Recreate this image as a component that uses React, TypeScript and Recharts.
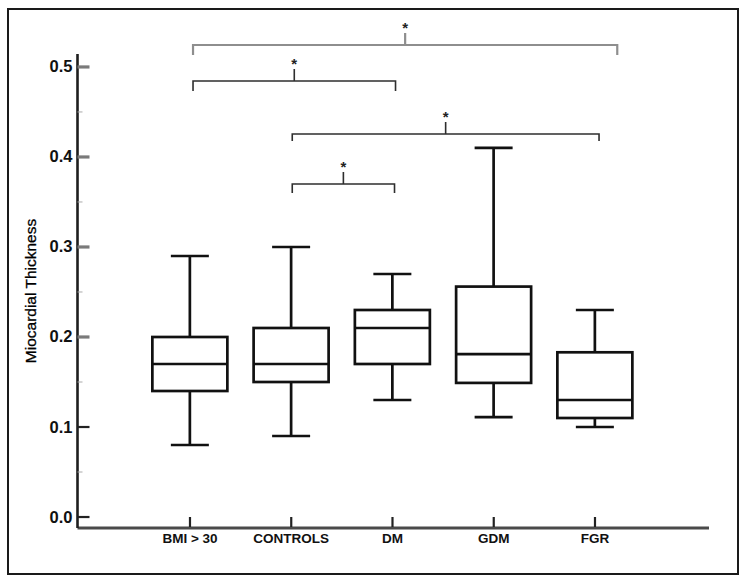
import { ComposedChart, XAxis, YAxis, Bar, ReferenceLine } from "recharts";

// box plot groups
const groups = ["BMI > 30", "CONTROLS", "DM", "GDM", "FGR"];
const whiskerLow = [0.08, 0.09, 0.13, 0.111, 0.1];
const quartile1 = [0.14, 0.15, 0.17, 0.149, 0.11];
const medians = [0.17, 0.17, 0.21, 0.181, 0.13];
const quartile3 = [0.2, 0.21, 0.23, 0.256, 0.183];
const whiskerHigh = [0.29, 0.3, 0.27, 0.41, 0.23];

const yTicks = [0, 0.05, 0.1, 0.15, 0.2, 0.25, 0.3, 0.35, 0.4, 0.45, 0.5];

// significance brackets, in group positions (1 = first group)
const bracketFrom = [1.03, 1.03, 2.01, 2.01];
const bracketTo = [5.22, 3.03, 5.04, 3.02];
const bracketLevel = [0.5244, 0.4844, 0.4256, 0.37];
const bracketMark = ["*", "*", "*", "*"];

const bracketStroke = ["#8e8e8e", "#2e2e2e", "#2e2e2e", "#2e2e2e"];
const bracketWidth = [2.2, 1.6, 1.6, 1.6];
const bracketDrop = [10, 10, 7, 9];

const FONT = "'Liberation Sans', Arial, Helvetica, sans-serif";

const data = groups.map((name, i) => ({
  pos: i + 1,
  name,
  low: whiskerLow[i],
  q1: quartile1[i],
  median: medians[i],
  q3: quartile3[i],
  high: whiskerHigh[i],
  range: [whiskerLow[i], whiskerHigh[i]],
}));

function BoxShape(props: any) {
  const { x, y, width, height, payload } = props;
  const top = Math.min(y, y + height);
  const span = Math.abs(height);
  const { low, q1, median, q3, high } = payload;
  const py = (v: number) => top + ((high - v) / (high - low)) * span;
  const cx = x + width / 2;
  const cap = 19;
  const s = { stroke: "#111", strokeWidth: 2.7, fill: "none" };
  return (
    <g>
      <line x1={cx} x2={cx} y1={py(high)} y2={py(q3)} {...s} />
      <line x1={cx} x2={cx} y1={py(q1)} y2={py(low)} {...s} />
      <line x1={cx - cap} x2={cx + cap} y1={py(high)} y2={py(high)} {...s} />
      <line x1={cx - cap} x2={cx + cap} y1={py(low)} y2={py(low)} {...s} />
      <rect x={x} y={py(q3)} width={width} height={py(q1) - py(q3)} {...s} fill="#fff" />
      <line x1={x} x2={x + width} y1={py(median)} y2={py(median)} {...s} />
    </g>
  );
}

function YTick(props: any) {
  const { x, y, payload } = props;
  const v = payload.value;
  const major = Math.round(v * 100) % 10 === 0;
  if (!major) {
    return <line x1={x} x2={x + 5} y1={y} y2={y} stroke="#aaa" strokeWidth={1} />;
  }
  const low = v < 0.15;
  return (
    <g>
      <line
        x1={x}
        x2={x + 12}
        y1={y}
        y2={y}
        stroke={low ? "#222" : "#7a7a7a"}
        strokeWidth={low ? 2.2 : 3.2}
      />
      <text
        x={x - 5}
        y={y + 5.5}
        textAnchor="end"
        fontFamily={FONT}
        fontWeight="bold"
        fontSize={16.5}
        fill="#111"
      >
        {v.toFixed(1)}
      </text>
    </g>
  );
}

function XTick(props: any) {
  const { x, y, payload } = props;
  return (
    <g>
      <line x1={x} x2={x} y1={y - 1} y2={y - 11} stroke="#222" strokeWidth={2.2} />
      <text
        x={x}
        y={y + 15}
        textAnchor="middle"
        fontFamily={FONT}
        fontWeight="bold"
        fontSize={13.5}
        fill="#111"
      >
        {groups[payload.value - 1]}
      </text>
    </g>
  );
}

function bracketShape(i: number) {
  return (props: any) => {
    const { x1, x2, y1 } = props;
    const mid = (x1 + x2) / 2;
    const drop = bracketDrop[i];
    return (
      <g>
        <path
          d={`M${x1},${y1 + drop} L${x1},${y1} L${x2},${y1} L${x2},${y1 + drop} M${mid},${y1} L${mid},${y1 - 12}`}
          stroke={bracketStroke[i]}
          strokeWidth={bracketWidth[i]}
          fill="none"
        />
        <text
          x={mid}
          y={y1 - 12}
          textAnchor="middle"
          fontFamily={FONT}
          fontWeight="bold"
          fontSize={15}
          fill="#222"
        >
          {bracketMark[i]}
        </text>
      </g>
    );
  };
}

export default function App() {
  return (
    <div
      style={{
        position: "absolute",
        left: 0,
        top: 0,
        width: 747,
        height: 583,
        background: "#fff",
      }}
    >
      <div
        style={{
          position: "absolute",
          left: 7,
          top: 8,
          width: 732,
          height: 567,
          border: "2px solid #1a1a1a",
          boxSizing: "border-box",
        }}
      />
      <div style={{ position: "absolute", left: 0, top: 0 }}>
        <ComposedChart
          width={747}
          height={583}
          data={data}
          margin={{ top: 54, right: 38, bottom: 0, left: 0 }}
        >
          <XAxis
            dataKey="pos"
            type="number"
            domain={[-0.111, 6.126]}
            ticks={[1, 2, 3, 4, 5]}
            allowDataOverflow
            height={55}
            tickSize={0}
            tickMargin={0}
            tick={<XTick />}
            axisLine={{ stroke: "#4a4a4a", strokeWidth: 3 }}
            tickLine={false}
          />
          <YAxis
            type="number"
            domain={[-0.0122, 0.5144]}
            ticks={yTicks}
            allowDataOverflow
            width={77.5}
            tickSize={0}
            tickMargin={0}
            tick={<YTick />}
            axisLine={{ stroke: "#1e1e1e", strokeWidth: 2.6 }}
            tickLine={false}
            interval={0}
            label={{
              content: (p: any) => {
                const vb = p.viewBox || { x: 0, y: 54, height: 474 };
                const cy = vb.y + vb.height / 2;
                return (
                  <text
                    x={30}
                    y={cy}
                    transform={`rotate(-90, 30, ${cy})`}
                    textAnchor="middle"
                    dominantBaseline="central"
                    fontFamily={FONT}
                    fontSize={15.5}
                    fill="#000"
                    stroke="#000"
                    strokeWidth={0.3}
                  >
                    Miocardial Thickness
                  </text>
                );
              },
            }}
          />
          <Bar
            dataKey="range"
            barSize={75}
            shape={<BoxShape />}
            isAnimationActive={false}
          />
          {bracketFrom.map((from, i) => (
            <ReferenceLine
              key={i}
              segment={[
                { x: from, y: bracketLevel[i] },
                { x: bracketTo[i], y: bracketLevel[i] },
              ]}
              ifOverflow="visible"
              shape={bracketShape(i)}
            />
          ))}
        </ComposedChart>
      </div>
    </div>
  );
}
